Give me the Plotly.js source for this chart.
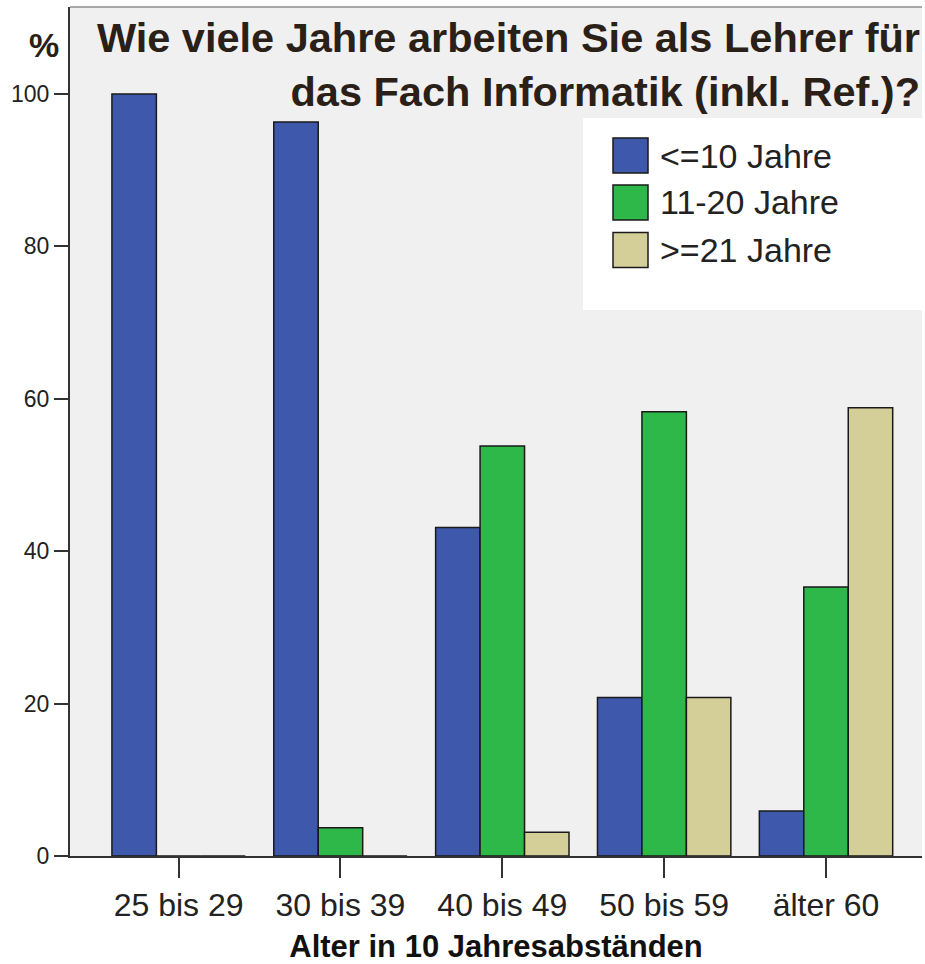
<!DOCTYPE html>
<html>
<head>
<meta charset="utf-8">
<script src="https://cdn.plot.ly/plotly-3.0.1.min.js"></script>
<style>html,body{margin:0;padding:0;background:#fff;}#chart{width:925px;height:964px;}</style>
</head>
<body>
<div id="chart"></div>
<script>
// ---- data ----
const categories = ['25 bis 29', '30 bis 39', '40 bis 49', '50 bis 59', 'älter 60'];
const seriesNames = ['<=10 Jahre', '11-20 Jahre', '>=21 Jahre'];
const upTo10 = [100, 96.3, 43.1, 20.8, 5.9];
const from11to20 = [0, 3.7, 53.8, 58.3, 35.3];
const from21 = [0, 0, 3.1, 20.8, 58.8];
const yTicks = [0, 20, 40, 60, 80, 100];
const titleText = 'Wie viele Jahre arbeiten Sie als Lehrer für<br>das Fach Informatik (inkl. Ref.)?';
const xTitleText = 'Alter in 10 Jahresabständen';
const yTitleText = '%';

// ---- style ----
const colors = ['#3e58ab', '#2fb84a', '#d4cf98'];
const W = 925, H = 964;
const M = {l: 70, r: 3, t: 7, b: 108};
const plotW = W - M.l - M.r, plotH = H - M.t - M.b;
const px = x => (x - M.l) / plotW;
const py = y => (H - M.b - y) / plotH;
const FONT = 'Liberation Sans, Arial, sans-serif';

const seriesValues = [upTo10, from11to20, from21];
const traces = seriesValues.map((vals, i) => ({
  type: 'bar',
  name: seriesNames[i],
  x: categories,
  y: vals,
  marker: {color: colors[i], line: {color: '#1a1a1a', width: 1.5}},
  showlegend: false,
  hoverinfo: 'x+y+name'
}));

const shapes = [
  // top frame line
  {type: 'line', xref: 'paper', yref: 'paper', x0: 0, x1: 1, y0: 1, y1: 1,
   line: {color: '#a8a8a8', width: 2}, layer: 'above'},
  // legend background
  {type: 'rect', xref: 'paper', yref: 'paper', x0: px(583), x1: px(925), y0: py(310), y1: py(118),
   fillcolor: '#ffffff', line: {width: 0}, layer: 'above'}
];
const annotations = [
  {xref: 'paper', yref: 'paper', x: px(44), y: py(45), xanchor: 'center', yanchor: 'middle',
   text: yTitleText, showarrow: false, font: {family: FONT, size: 34, color: '#2a2018', weight: 'bold'}}
];
const rowY = [155.5, 202.5, 250];
seriesNames.forEach((n, i) => {
  shapes.push({type: 'rect', xref: 'paper', yref: 'paper',
    x0: px(613), x1: px(648), y0: py(rowY[i] + 17.5), y1: py(rowY[i] - 17.5),
    fillcolor: colors[i], line: {color: '#1a1a1a', width: 1.5}, layer: 'above'});
  annotations.push({xref: 'paper', yref: 'paper', x: px(658), y: py(rowY[i]), xanchor: 'left', yanchor: 'middle',
    text: n, showarrow: false, font: {family: FONT, size: 34, color: '#222222'}});
});

const layout = {
  width: W, height: H,
  margin: M,
  paper_bgcolor: '#ffffff',
  plot_bgcolor: '#f0f0f0',
  barmode: 'group',
  bargap: 0.176,
  bargroupgap: 0,
  font: {family: FONT, color: '#222222'},
  title: {
    text: titleText,
    font: {family: FONT, size: 41.5, color: '#2a2018', weight: 'bold'},
    xref: 'container', yref: 'container', x: 920 / W, xanchor: 'right', y: 1 - 52 / H, yanchor: 'top'
  },
  xaxis: {
    type: 'category',
    range: [-0.671, 4.593],
    showline: true, linecolor: '#333333', linewidth: 2,
    ticks: 'outside', ticklen: 20, tickwidth: 2, tickcolor: '#333333',
    tickfont: {size: 32, color: '#222222'},
    showgrid: false, zeroline: false,
    title: {text: xTitleText, font: {size: 31, weight: 'bold', color: '#111111'}, standoff: 16}
  },
  yaxis: {
    range: [0, 111.4],
    tickvals: yTicks,
    showline: true, linecolor: '#333333', linewidth: 2,
    ticks: 'outside', ticklen: 14, tickwidth: 2, tickcolor: '#333333',
    tickfont: {size: 23, color: '#222222'},
    showgrid: false, zeroline: false
  },
  shapes: shapes,
  annotations: annotations,
  showlegend: false
};

Plotly.newPlot('chart', traces, layout, {displayModeBar: false, staticPlot: true});
</script>
</body>
</html>
